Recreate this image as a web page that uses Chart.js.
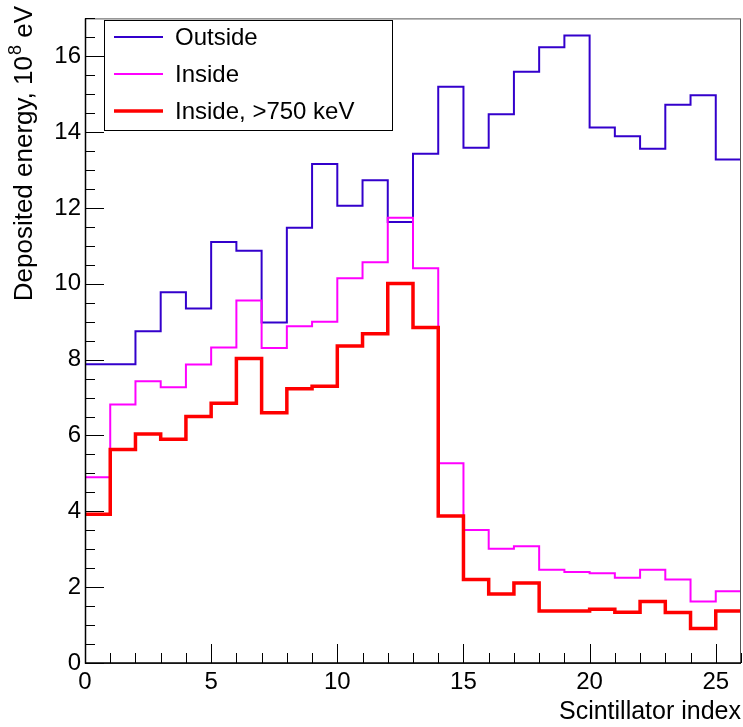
<!DOCTYPE html>
<html>
<head>
<meta charset="utf-8">
<script src="https://cdn.jsdelivr.net/npm/chart.js@4/dist/chart.umd.min.js"></script>
<style>
  html, body { margin: 0; padding: 0; background: #fff; }
  #wrap { width: 743px; height: 727px; }
</style>
</head>
<body>
<div id="wrap"><canvas id="chart" width="743" height="727"></canvas></div>
<script>
// energy deposited per scintillator bar, in units of 1e8 eV
const binEdges = [0, 26];
const outside = [7.88, 7.88, 8.75, 9.78, 9.35, 11.10, 10.87, 8.98, 11.48, 13.16, 12.06, 12.73, 11.63,
  13.43, 15.20, 13.59, 14.47, 15.59, 16.24, 16.55, 14.12, 13.89, 13.56, 14.72, 14.97, 13.28];
const inside = [4.90, 6.82, 7.43, 7.27, 7.87, 8.32, 9.56, 8.31, 8.88, 9.00, 10.15, 10.57, 11.74,
  10.41, 5.27, 3.51, 3.01, 3.08, 2.46, 2.40, 2.37, 2.25, 2.46, 2.20, 1.62, 1.89];
const insideHigh = [3.92, 5.63, 6.04, 5.90, 6.50, 6.85, 8.03, 6.60, 7.23, 7.30, 8.36, 8.68, 10.01,
  8.85, 3.88, 2.20, 1.82, 2.11, 1.37, 1.37, 1.42, 1.34, 1.62, 1.33, 0.91, 1.37];
const seriesLabels = ['Outside', 'Inside', 'Inside, >750 keV'];
const xTicks = [0, 5, 10, 15, 20, 25];
const yTicks = [0, 2, 4, 6, 8, 10, 12, 14, 16];

const FONT = 'Liberation Sans, Arial, Helvetica, sans-serif';

// one point per bin low edge plus the closing edge, drawn as steps
function toSteps(values) {
  const pts = values.map(function(v, i) { return { x: binEdges[0] + i, y: v }; });
  pts.push({ x: binEdges[0] + values.length, y: values[values.length - 1] });
  return pts;
}

function histo(label, values, color, width, order) {
  return {
    label: label,
    data: toSteps(values),
    borderColor: color,
    backgroundColor: color,
    borderWidth: width,
    stepped: 'before',
    pointRadius: 0,
    fill: false,
    order: order,
    borderJoinStyle: 'miter',
  };
}

// frame, inward ticks, axis titles and the legend box
const rootStyle = {
  id: 'rootStyle',
  afterDraw(chart) {
    const ctx = chart.ctx;
    const area = chart.chartArea;
    const xs = chart.scales.x;
    const ys = chart.scales.y;
    ctx.save();

    // frame
    ctx.strokeStyle = '#555';
    ctx.lineWidth = 1;
    ctx.strokeRect(area.left + 0.5, area.top + 0.5, area.right - area.left - 1, area.bottom - area.top);

    // axes
    ctx.strokeStyle = '#000';
    ctx.lineWidth = 1.5;
    ctx.beginPath();
    ctx.moveTo(area.left + 0.5, area.top);
    ctx.lineTo(area.left + 0.5, area.bottom);
    ctx.lineTo(area.right, area.bottom);
    ctx.stroke();

    // x ticks: major every 5, minor every 1
    ctx.lineWidth = 1;
    ctx.beginPath();
    for (let v = binEdges[0]; v <= binEdges[1]; v++) {
      const px = Math.round(xs.getPixelForValue(v)) + 0.5;
      const len = v % 5 === 0 ? 19 : 10;
      ctx.moveTo(px, area.bottom);
      ctx.lineTo(px, area.bottom - len);
    }
    // y ticks: major every 2, minor every 0.5
    for (let v = 0; v <= ys.max + 1e-6; v += 0.5) {
      const py = Math.round(ys.getPixelForValue(v)) + 0.5;
      const len = Math.abs(v % 2) < 1e-6 ? 19 : 10;
      ctx.moveTo(area.left, py);
      ctx.lineTo(area.left + len, py);
    }
    ctx.stroke();

    // x title
    ctx.fillStyle = '#000';
    ctx.font = '25px ' + FONT;
    ctx.textAlign = 'right';
    ctx.textBaseline = 'alphabetic';
    ctx.fillText('Scintillator index', 741, 719);

    // y title with a raised exponent
    const partA = 'Deposited energy, 10';
    const partB = '8';
    const partC = ' eV';
    ctx.font = '26px ' + FONT;
    const wA = ctx.measureText(partA).width;
    const wC = ctx.measureText(partC).width;
    ctx.font = '18px ' + FONT;
    const wB = ctx.measureText(partB).width;
    const total = wA + wB + wC;
    ctx.translate(32, 7 + total);
    ctx.rotate(-Math.PI / 2);
    ctx.textAlign = 'left';
    ctx.font = '26px ' + FONT;
    ctx.fillText(partA, 0, 0);
    ctx.font = '18px ' + FONT;
    ctx.fillText(partB, wA + 1, -11);
    ctx.font = '26px ' + FONT;
    ctx.fillText(partC, wA + wB + 1, 0);
    ctx.setTransform(1, 0, 0, 1, 0, 0);

    // legend
    const box = { x: 104, y: 20, w: 288, h: 110 };
    ctx.fillStyle = '#fff';
    ctx.fillRect(box.x, box.y, box.w, box.h);
    ctx.strokeStyle = '#000';
    ctx.lineWidth = 1;
    ctx.strokeRect(box.x + 0.5, box.y + 0.5, box.w, box.h);
    ctx.font = '24px ' + FONT;
    ctx.textAlign = 'left';
    ctx.textBaseline = 'middle';
    chart.data.datasets.forEach(function(ds, i) {
      const cy = 37 + i * 37;
      ctx.strokeStyle = ds.borderColor;
      ctx.lineWidth = ds.borderWidth;
      ctx.beginPath();
      ctx.moveTo(114, cy);
      ctx.lineTo(163, cy);
      ctx.stroke();
      ctx.fillStyle = '#000';
      ctx.fillText(ds.label, 175, cy + 1);
    });

    ctx.restore();
  }
};

new Chart(document.getElementById('chart'), {
  type: 'line',
  data: {
    datasets: [
      histo(seriesLabels[0], outside, '#3300cc', 2, 2),
      histo(seriesLabels[1], inside, '#ff00ff', 2, 1),
      histo(seriesLabels[2], insideHigh, '#ff0000', 3.5, 0),
    ]
  },
  options: {
    responsive: false,
    animation: false,
    layout: { padding: { top: 7, right: 2, left: 0, bottom: 0 } },
    plugins: {
      legend: { display: false },
      tooltip: { enabled: false },
    },
    scales: {
      x: {
        type: 'linear',
        min: binEdges[0],
        max: binEdges[1],
        grid: { display: false, drawTicks: false },
        border: { display: false },
        afterFit(scale) { scale.height = 64; },
        afterBuildTicks(scale) { scale.ticks = xTicks.map(function(v) { return { value: v }; }); },
        ticks: {
          autoSkip: false,
          maxRotation: 0,
          padding: 5,
          color: '#000',
          font: { family: FONT, size: 24 },
        },
      },
      y: {
        type: 'linear',
        min: 0,
        max: 17,
        grid: { display: false, drawTicks: false },
        border: { display: false },
        afterFit(scale) { scale.width = 85; },
        afterBuildTicks(scale) { scale.ticks = yTicks.map(function(v) { return { value: v }; }); },
        ticks: {
          autoSkip: false,
          padding: 4,
          color: '#000',
          font: { family: FONT, size: 24 },
        },
      },
    },
  },
  plugins: [rootStyle],
});
</script>
</body>
</html>
